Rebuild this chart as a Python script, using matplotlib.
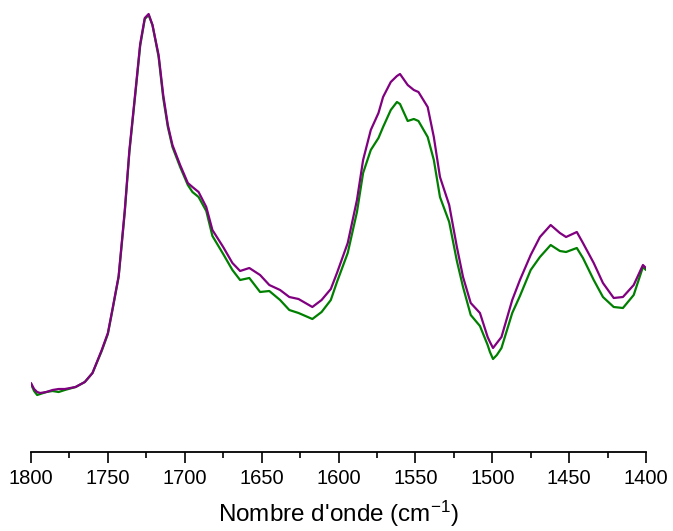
import matplotlib
matplotlib.use("Agg")
import matplotlib.pyplot as plt
from matplotlib.ticker import MultipleLocator

plt.rcParams['font.family'] = ['Liberation Sans', 'DejaVu Sans']
plt.rcParams['mathtext.fontset'] = 'custom'
plt.rcParams['mathtext.rm'] = 'Liberation Sans'
plt.rcParams['mathtext.it'] = 'Liberation Sans:italic'

# FTIR spectra, amide / ester region (absorbance, arbitrary units)
wavenumber = [
    1800, 1798, 1796, 1794, 1790, 1786, 1782, 1778, 1771, 1765,
    1760, 1754, 1750, 1747, 1743, 1741, 1739, 1736, 1732, 1729,
    1726, 1723.5, 1721, 1717, 1714, 1711, 1708, 1703, 1698, 1695,
    1691, 1686, 1682, 1675, 1669, 1664, 1658, 1651, 1645, 1638,
    1632, 1626, 1617, 1611, 1605, 1601, 1594, 1588, 1584, 1579,
    1574, 1571, 1566, 1562, 1560, 1555, 1551, 1548, 1542, 1538,
    1534, 1528, 1523, 1519, 1514, 1508, 1503, 1501.5, 1499.5, 1497,
    1494, 1487, 1482, 1475, 1469, 1462, 1456, 1452, 1445, 1441,
    1434, 1428, 1421, 1415, 1408, 1402, 1400,
]

absorbance_purple = [
    0.069, 0.063, 0.060, 0.059, 0.060, 0.062, 0.063, 0.063, 0.065, 0.070,
    0.079, 0.102, 0.119, 0.143, 0.176, 0.209, 0.242, 0.302, 0.362, 0.408,
    0.434, 0.438, 0.427, 0.397, 0.357, 0.327, 0.307, 0.287, 0.269, 0.265,
    0.260, 0.245, 0.222, 0.205, 0.189, 0.181, 0.184, 0.177, 0.167, 0.162,
    0.155, 0.153, 0.145, 0.152, 0.163, 0.179, 0.209, 0.252, 0.292, 0.322,
    0.339, 0.355, 0.370, 0.376, 0.378, 0.367, 0.362, 0.360, 0.345, 0.315,
    0.275, 0.247, 0.205, 0.175, 0.149, 0.139, 0.115, 0.110, 0.104, 0.109,
    0.115, 0.152, 0.172, 0.197, 0.215, 0.227, 0.219, 0.215, 0.220, 0.209,
    0.189, 0.169, 0.154, 0.155, 0.167, 0.187, 0.184,
]

absorbance_green = [
    0.068, 0.061, 0.057, 0.058, 0.060, 0.061, 0.060, 0.062, 0.065, 0.070,
    0.079, 0.101, 0.118, 0.142, 0.175, 0.207, 0.240, 0.300, 0.360, 0.406,
    0.433, 0.437, 0.427, 0.395, 0.354, 0.325, 0.305, 0.285, 0.267, 0.260,
    0.255, 0.241, 0.216, 0.198, 0.182, 0.172, 0.174, 0.160, 0.161, 0.152,
    0.142, 0.139, 0.133, 0.140, 0.152, 0.170, 0.199, 0.240, 0.279, 0.302,
    0.314, 0.325, 0.342, 0.350, 0.348, 0.331, 0.333, 0.331, 0.315, 0.292,
    0.255, 0.230, 0.191, 0.165, 0.137, 0.126, 0.107, 0.100, 0.093, 0.097,
    0.104, 0.139, 0.156, 0.182, 0.195, 0.207, 0.201, 0.200, 0.204, 0.194,
    0.172, 0.155, 0.145, 0.144, 0.157, 0.185, 0.182,
]

W, H = 673, 531
fig = plt.figure(figsize=(W / 100, H / 100), dpi=100)
ax = fig.add_axes([31 / W, (H - 452) / H, 615 / W, 447 / H])

line_kw = dict(lw=1.6, solid_joinstyle='round', solid_capstyle='round')
ax.plot(wavenumber, absorbance_green, color='#008000', **line_kw)
ax.plot(wavenumber, absorbance_purple, color='#800080', **line_kw)

ax.set_xlim(1800, 1400)
ax.set_ylim(0, 0.447)

for side in ('left', 'right', 'top'):
    ax.spines[side].set_visible(False)
ax.spines['bottom'].set_linewidth(1.3)
ax.set_yticks([])

ax.xaxis.set_major_locator(MultipleLocator(50))
ax.xaxis.set_minor_locator(MultipleLocator(25))
ax.tick_params(axis='x', which='major', direction='out', length=8, width=1.2,
               labelsize=14.5, pad=4)
ax.tick_params(axis='x', which='minor', direction='out', length=4.5, width=1.2)

ax.set_xlabel(r"Nombre d'onde (cm$^{-1}$)", fontsize=17.5, labelpad=8)

fig.savefig("out.png", dpi=100)
